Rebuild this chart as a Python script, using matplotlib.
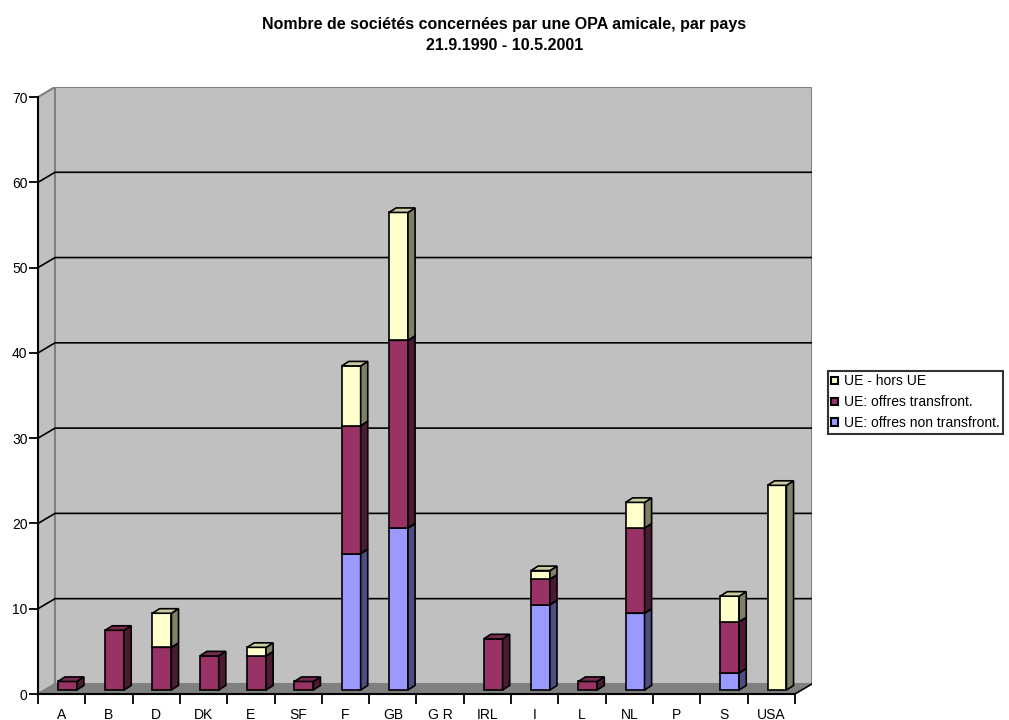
import numpy as np
import matplotlib.pyplot as plt
from matplotlib.patches import Polygon

plt.rcParams['font.family'] = ['Liberation Sans', 'DejaVu Sans']

pays = ['A', 'B', 'D', 'DK', 'E', 'SF', 'F', 'GB', 'G R', 'IRL', 'I', 'L', 'NL', 'P', 'S', 'USA']
non_transfront = [0, 0, 0, 0, 0, 0, 16, 19, 0, 0, 10, 0, 9, 0, 2, 0]
transfront = [1, 7, 5, 4, 4, 1, 15, 22, 0, 6, 3, 1, 10, 0, 6, 0]
hors_ue = [0, 0, 4, 0, 1, 0, 7, 15, 0, 0, 1, 0, 3, 0, 3, 24]

series = [
    ('UE: offres non transfront.', non_transfront, '#9999FF'),
    ('UE: offres transfront.', transfront, '#993366'),
    ('UE - hors UE', hors_ue, '#FFFFCC'),
]

# depth of the 3d box and of the bars (category units / value units)
DX, DY = 0.36, 1.18
BDX, BDY = 0.15, 0.53
BW = 0.4
BASE = 0.47


def shade(color, f):
    r, g, b = plt.matplotlib.colors.to_rgb(color)
    return (r * f, g * f, b * f)


def main():
    fig = plt.figure(figsize=(10.09, 7.2), dpi=100)
    ax = fig.add_axes([38 / 1009, 26 / 720, 774 / 1009, 607 / 720])
    n = len(pays)
    xl, xr = -0.5, n - 0.5
    ymax = 70
    ax.set_xlim(xl, xr + DX)
    ax.set_ylim(0, ymax + DY)

    # walls and floor
    ax.add_patch(Polygon([(xl, 0), (xl + DX, DY), (xl + DX, ymax + DY), (xl, ymax)],
                         facecolor='#C0C0C0', edgecolor='#808080', lw=1.5, zorder=0))
    ax.add_patch(Polygon([(xl + DX, DY), (xr + DX, DY), (xr + DX, ymax + DY), (xl + DX, ymax + DY)],
                         facecolor='#C0C0C0', edgecolor='#808080', lw=1.5, zorder=0))
    ax.add_patch(Polygon([(xl, 0), (xr, 0), (xr + DX, DY), (xl + DX, DY)],
                         facecolor='#808080', edgecolor='none', zorder=0.5))
    ax.plot([xr, xr + DX], [0, DY], color='black', lw=1.2, zorder=1)
    for v in range(10, ymax, 10):
        ax.plot([xl, xl + DX, xr + DX], [v, v + DY, v + DY], color='black', lw=1.2, zorder=1)

    # stacked 3d columns
    bottoms = np.zeros(n)
    for label, vals, col in series:
        vals = np.array(vals, dtype=float)
        x0 = np.arange(n) - 0.08
        for i in range(n):
            if vals[i] == 0:
                continue
            b = BASE + bottoms[i]
            t = b + vals[i]
            z = 3 + bottoms[i] * 0.01
            ax.bar(x0[i], vals[i], bottom=b, width=BW, align='edge', color=col,
                   edgecolor='black', lw=1.2, zorder=z)
            x1 = x0[i] + BW
            ax.add_patch(Polygon([(x1, b), (x1 + BDX, b + BDY), (x1 + BDX, t + BDY), (x1, t)],
                                 facecolor=shade(col, 0.5), edgecolor='black', lw=1.2, zorder=z))
            ax.add_patch(Polygon([(x0[i], t), (x1, t), (x1 + BDX, t + BDY), (x0[i] + BDX, t + BDY)],
                                 facecolor=shade(col, 0.8), edgecolor='black', lw=1.2, zorder=z))
        bottoms += vals

    # legend proxies
    handles = [plt.Rectangle((0, 0), 1, 1, facecolor=c, edgecolor='black', lw=1.5)
               for _, _, c in series[::-1]]
    labels = [s[0] for s in series[::-1]]
    fig.legend(handles, labels, loc='upper left', bbox_to_anchor=(828 / 1009, 1 - 371 / 720),
               frameon=True, fancybox=False, edgecolor='black', fontsize=10,
               handlelength=0.5, handleheight=0.5, handletextpad=0.4,
               borderpad=0.25, labelspacing=0.5, borderaxespad=0)
    fig.legends[0].get_frame().set_linewidth(1.5)

    # axes
    for s in ['top', 'right']:
        ax.spines[s].set_visible(False)
    ax.spines['left'].set_bounds(0, ymax)
    ax.spines['bottom'].set_bounds(xl, xr)
    ax.spines['left'].set_linewidth(1.5)
    ax.spines['bottom'].set_linewidth(1.5)
    ax.set_yticks(range(0, ymax + 1, 10))
    ax.tick_params(axis='y', length=6.5, width=1.3, labelsize=10, pad=1)
    ax.set_xticks(np.arange(xl, xr + 0.1, 1))
    ax.set_xticklabels([])
    ax.set_xticks(np.arange(n), minor=True)
    ax.set_xticklabels(pays, minor=True, fontsize=10)
    ax.tick_params(axis='x', which='major', length=7, width=1.3)
    ax.tick_params(axis='x', which='minor', length=0, pad=10)

    fig.text(0.5, 1 - 25 / 720, 'Nombre de sociétés concernées par une OPA amicale, par pays',
             ha='center', va='center', fontsize=11.5, fontweight='bold')
    fig.text(0.5, 1 - 46 / 720, '21.9.1990 - 10.5.2001',
             ha='center', va='center', fontsize=11.5, fontweight='bold')

    fig.savefig('out.png', dpi=100)
    plt.close(fig)


if __name__ == '__main__':
    main()
